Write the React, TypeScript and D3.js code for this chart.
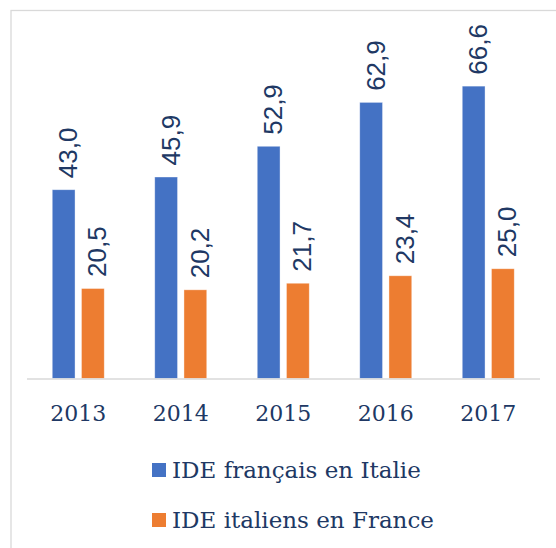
import React from 'react';
import * as d3 from 'd3';

// IDE France / Italie, en milliards d'euros
const years = ['2013', '2014', '2015', '2016', '2017'];
const ideFrEnItalie = [43.0, 45.9, 52.9, 62.9, 66.6];
const ideItEnFrance = [20.5, 20.2, 21.7, 23.4, 25.0];
const seriesNames = ['IDE français en Italie', 'IDE italiens en France'];
const seriesColors = ['#4472C4', '#ED7D31'];

const W = 556;
const H = 548;
const textColor = '#203864';
const fmt = (v: number) => v.toFixed(1).replace('.', ',');

export default function App() {
  const x = d3.scaleBand<string>().domain(years).range([27, 539.5]).paddingInner(0).paddingOuter(0);
  const y = d3.scaleLinear().domain([0, 70]).range([378.5, 71.2]);
  const groupW = 52;
  const inner = d3.scaleBand<number>().domain([0, 1]).range([0, groupW]).paddingInner(0.22);

  const series = [ideFrEnItalie, ideItEnFrance];

  return (
    <div style={{ position: 'fixed', left: 0, top: 0 }}>
      <svg width={W} height={H} style={{ display: 'block', background: '#fff' }}>
        {/* chart frame */}
        <rect x={11} y={10.5} width={W + 20} height={H + 20} fill="#fff" stroke="#d9d9d9" strokeWidth={1.3} />

        {series.map((vals, si) =>
          vals.map((v, i) => {
            const x0 = (x(years[i]) as number) + (x.bandwidth() - groupW) / 2 + (inner(si) as number);
            const bw = inner.bandwidth();
            const cx = x0 + bw / 2;
            const top = y(v);
            return (
              <g key={`${si}-${i}`}>
                <rect x={x0} y={top} width={bw} height={y(0) - top} fill={seriesColors[si]} stroke="#fff" strokeOpacity={0.5} strokeWidth={0.75} />
                <text
                  transform={`translate(${cx + 13.5},${top - 11.5}) rotate(-90)`}
                  fontFamily="'Liberation Sans', Arial, sans-serif"
                  fontSize={26}
                  fill={textColor}
                >
                  {fmt(v)}
                </text>
              </g>
            );
          })
        )}

        {/* category axis */}
        <line x1={27} x2={540} y1={y(0) + 0.5} y2={y(0) + 0.5} stroke="#d9d9d9" strokeWidth={1.3} />
        {years.map(yr => (
          <text
            key={yr}
            x={(x(yr) as number) + x.bandwidth() / 2}
            y={421}
            textAnchor="middle"
            fontFamily="'DejaVu Serif', Georgia, serif"
            fontSize={22}
            fill={textColor}
            style={{ fontVariantNumeric: 'oldstyle-nums' }}
          >
            {yr}
          </text>
        ))}

        {/* legend */}
        {seriesNames.map((name, i) => (
          <g key={name} transform={`translate(152,${478 + i * 50})`}>
            <rect x={0} y={-15} width={14} height={14} fill={seriesColors[i]} />
            <text x={20} y={0} fontFamily="'DejaVu Serif', Georgia, serif" fontSize={23} fill={textColor}>
              {name}
            </text>
          </g>
        ))}
      </svg>
    </div>
  );
}
